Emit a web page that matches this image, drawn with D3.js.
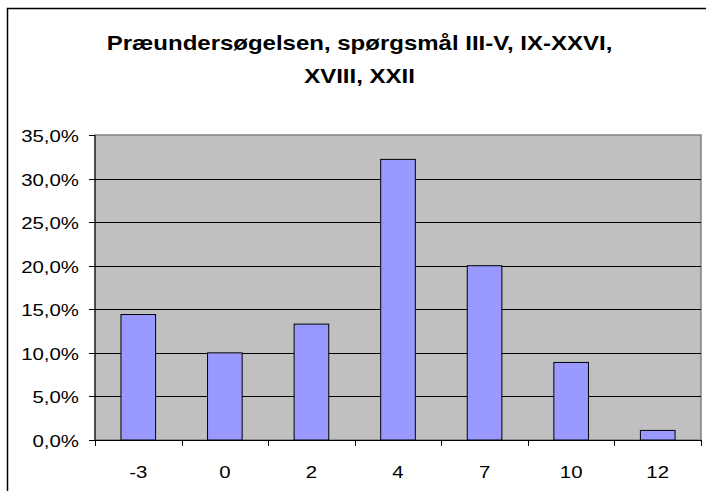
<!DOCTYPE html>
<html>
<head>
<meta charset="utf-8">
<script src="https://cdn.jsdelivr.net/npm/d3@7"></script>
<style>
  body { margin: 0; background: #fff; }
  text { font-family: "Liberation Sans", Arial, sans-serif; fill: #000; }
</style>
</head>
<body>
<div id="chart"></div>
<script>
// data
const categories = ["-3", "0", "2", "4", "7", "10", "12"];
const shares = [0.144, 0.100, 0.133, 0.322, 0.200, 0.089, 0.011];
const yTicks = [0, 0.05, 0.10, 0.15, 0.20, 0.25, 0.30, 0.35];
const titleLines = ["Præundersøgelsen, spørgsmål III-V, IX-XXVI,", "XVIII, XXII"];

const W = 706, H = 491;
const plot = { left: 95, right: 701, top: 135, bottom: 440 };
const stretch = 1.2; // the picture is a bit wider than tall

const svg = d3.select("#chart").append("svg")
    .attr("width", W)
    .attr("height", H);

// chart frame (runs past the right/bottom edge)
svg.append("rect")
    .attr("x", 7.5).attr("y", 8.5)
    .attr("width", 720).attr("height", 500)
    .attr("fill", "#fff")
    .attr("stroke", "#000")
    .attr("stroke-width", 1.5);

function label(x, y, str, size, anchor, bold) {
    svg.append("text")
        .attr("transform", `translate(${x},${y}) scale(${stretch},1)`)
        .attr("text-anchor", anchor)
        .style("font-size", size + "px")
        .style("font-weight", bold ? "bold" : "normal")
        .text(str);
}

// title
label(359.5, 49.5, titleLines[0], 20, "middle", true);
label(359.5, 83, titleLines[1], 20, "middle", true);

const x = d3.scaleBand()
    .domain(categories)
    .range([plot.left, plot.right])
    .paddingInner(0.6)
    .paddingOuter(0.3);

const xEdge = d3.scaleBand()
    .domain(categories)
    .range([plot.left, plot.right])
    .padding(0);

const y = d3.scaleLinear()
    .domain([0, 0.35])
    .range([plot.bottom, plot.top]);

const fmt = d3.formatLocale({ decimal: ",", thousands: ".", grouping: [3], currency: ["", ""] }).format(".1%");

// plot background
svg.append("rect")
    .attr("x", plot.left).attr("y", plot.top)
    .attr("width", plot.right - plot.left)
    .attr("height", plot.bottom - plot.top)
    .attr("fill", "#c0c0c0")
    .attr("stroke", "#808080")
    .attr("stroke-width", 1.5);

// gridlines
svg.append("g")
    .selectAll("line")
    .data(yTicks.slice(1, -1))
    .join("line")
    .attr("x1", plot.left).attr("x2", plot.right)
    .attr("y1", d => Math.round(y(d)) + 0.5)
    .attr("y2", d => Math.round(y(d)) + 0.5)
    .attr("stroke", "#000")
    .attr("stroke-width", 1);

// bars
svg.append("g")
    .selectAll("rect")
    .data(shares)
    .join("rect")
    .attr("x", (d, i) => x(categories[i]))
    .attr("y", d => y(d))
    .attr("width", x.bandwidth())
    .attr("height", d => y(0) - y(d))
    .attr("fill", "#9999ff")
    .attr("stroke", "#000")
    .attr("stroke-width", 1);

// axes lines
svg.append("line")
    .attr("x1", plot.left).attr("x2", plot.left)
    .attr("y1", plot.top).attr("y2", plot.bottom)
    .attr("stroke", "#000");
svg.append("line")
    .attr("x1", plot.left).attr("x2", plot.right)
    .attr("y1", plot.bottom + 0.5).attr("y2", plot.bottom + 0.5)
    .attr("stroke", "#000");

// y ticks + labels
yTicks.forEach(t => {
    const yy = Math.round(y(t)) + 0.5;
    svg.append("line")
        .attr("x1", plot.left - 6).attr("x2", plot.left)
        .attr("y1", yy).attr("y2", yy)
        .attr("stroke", "#000");
    label(79, yy + 6.5, fmt(t), 17, "end", false);
});

// x ticks sit between categories
const edges = categories.map(c => xEdge(c)).concat([plot.right]);
svg.append("g")
    .selectAll("line")
    .data(edges)
    .join("line")
    .attr("x1", d => Math.round(d) + 0.5).attr("x2", d => Math.round(d) + 0.5)
    .attr("y1", plot.bottom).attr("y2", plot.bottom + 6)
    .attr("stroke", "#000");

categories.forEach(c => {
    label(xEdge(c) + xEdge.bandwidth() / 2, 477.5, c, 17, "middle", false);
});
</script>
</body>
</html>
